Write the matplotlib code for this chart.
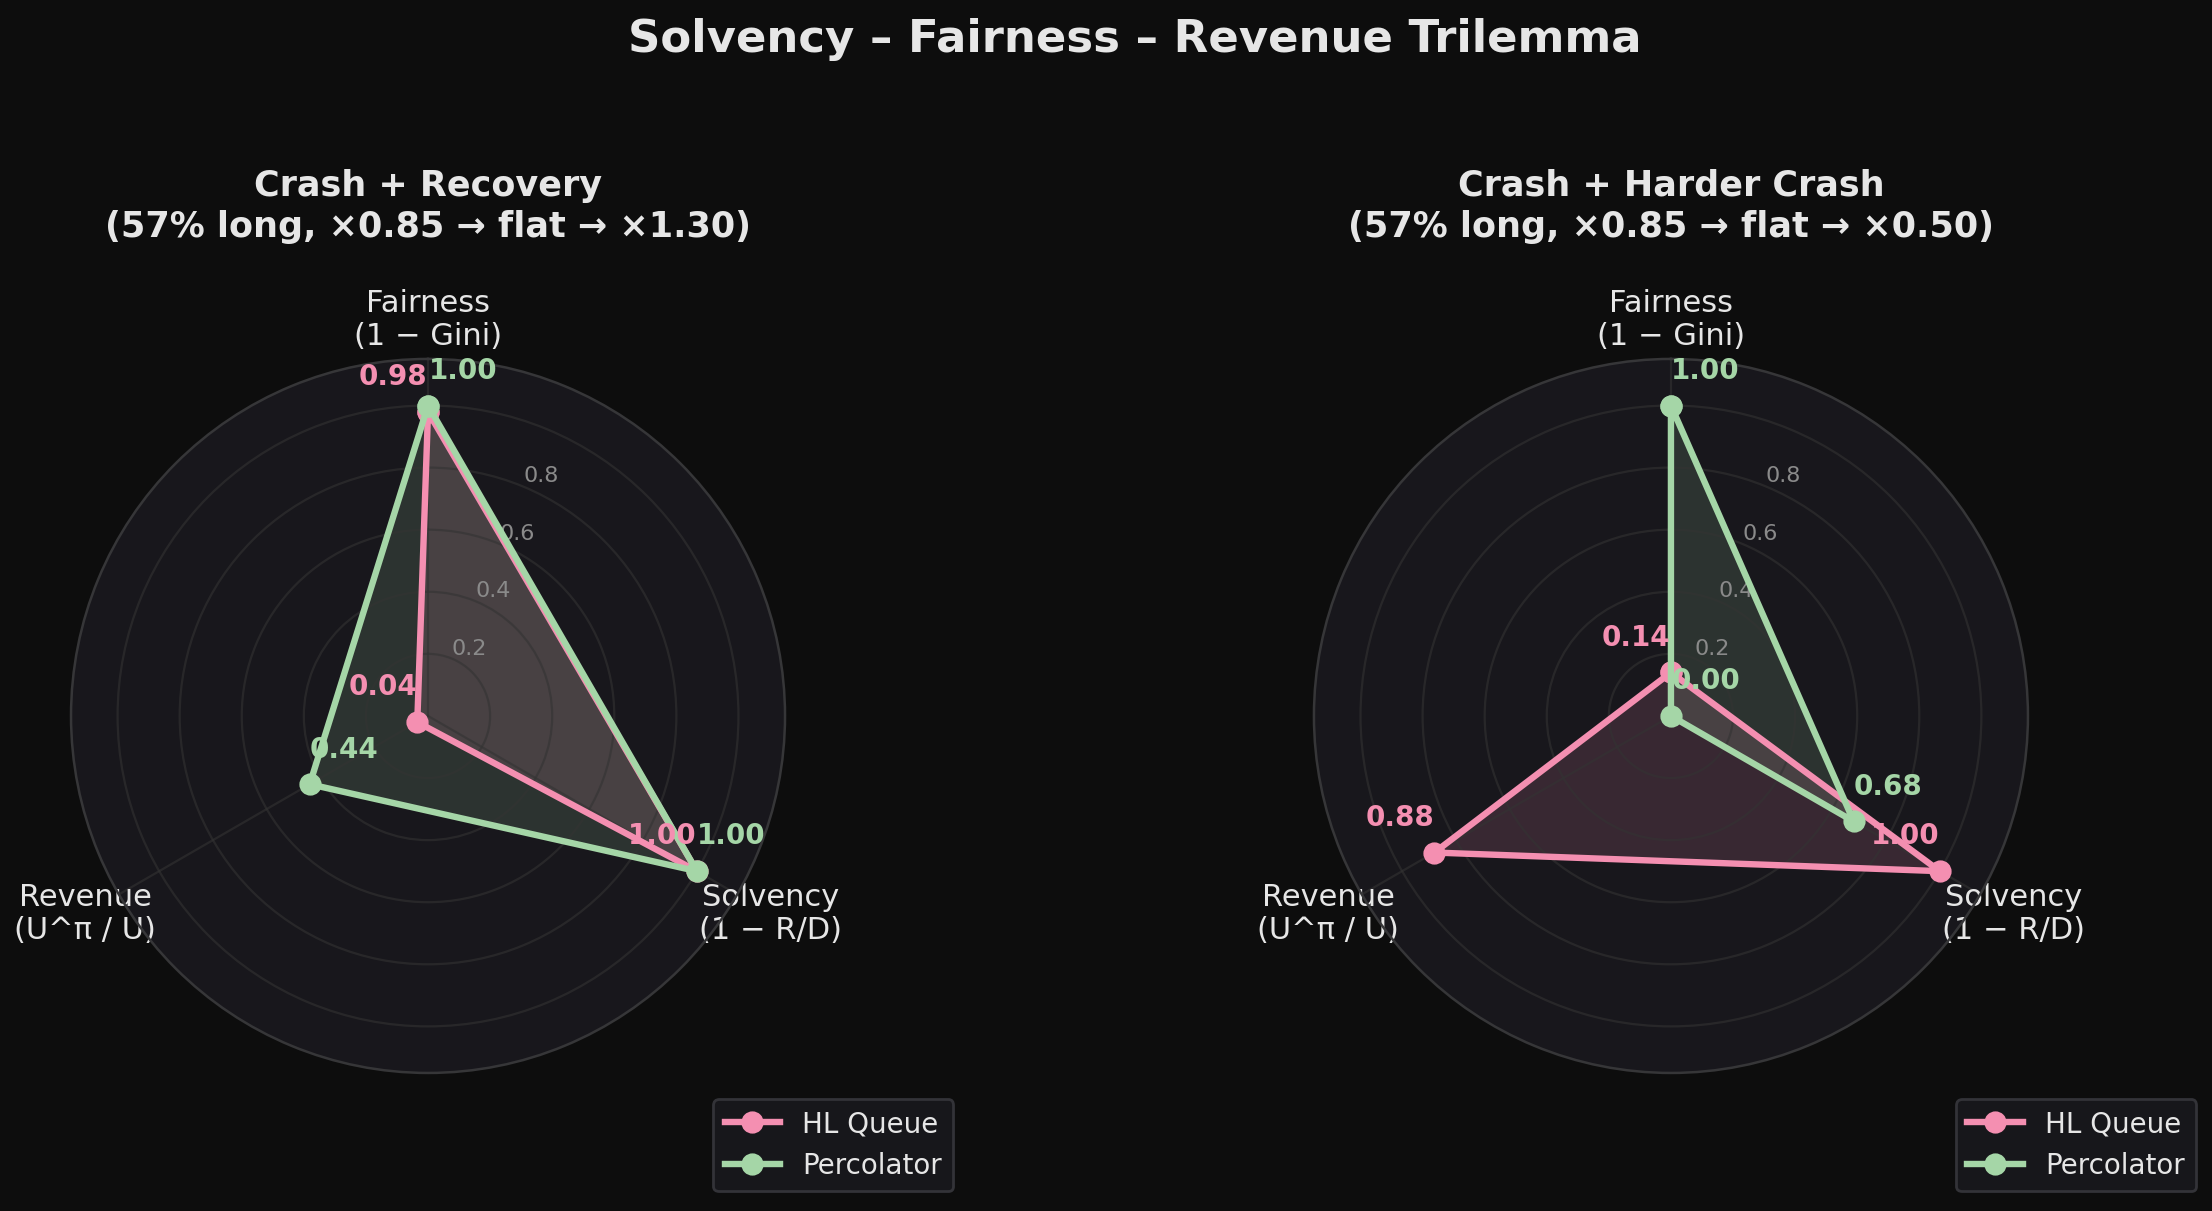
import numpy as np
import matplotlib
matplotlib.use("Agg")
import matplotlib.pyplot as plt

# ── data ──
AXIS_LABELS = ["Fairness\n(1 \u2212 Gini)", "Solvency\n(1 \u2212 R/D)", "Revenue\n(U^\u03c0 / U)"]
SCENARIOS = [
    "Crash + Recovery\n(57% long, \u00d70.85 \u2192 flat \u2192 \u00d71.30)",
    "Crash + Harder Crash\n(57% long, \u00d70.85 \u2192 flat \u2192 \u00d70.50)",
]
SERIES = ["HL Queue", "Percolator"]
# values per scenario: [fairness, solvency, revenue]
HL_VALUES   = [[0.98, 1.00, 0.04], [0.14, 1.00, 0.88]]
PERC_VALUES = [[1.00, 1.00, 0.44], [1.00, 0.68, 0.00]]
R_TICKS = [0.2, 0.4, 0.6, 0.8, 1.0]
R_TICK_LABELS = ["0.2", "0.4", "0.6", "0.8", ""]

# ── dark theme ──
BG      = "#0d0d0d"
AX_BG   = "#18171c"
TXT     = "#e6e6e6"
GRID_C  = "#333333"
SPINE_C = "#363638"
RLAB_C  = "#8a8a8a"
COLORS  = ["#F48FB1", "#A5D6A7"]

DPI = 200
fig = plt.figure(figsize=(2212 / DPI, 1211 / DPI), dpi=DPI)
fig.patch.set_facecolor(BG)

angles = np.linspace(0, 2 * np.pi, len(AXIS_LABELS), endpoint=False)
closed = np.concatenate([angles, angles[:1]])

positions = [
    [0.0321, 0.114, 0.3228, 0.5896],
    [0.5940, 0.114, 0.3228, 0.5896],
]

for k, title in enumerate(SCENARIOS):
    ax = fig.add_axes(positions[k], projection="polar")
    ax.set_facecolor(AX_BG)
    ax.set_theta_offset(np.pi / 2)
    ax.set_theta_direction(-1)
    ax.set_ylim(0, 1.15)

    data = [HL_VALUES[k], PERC_VALUES[k]]
    for j, (name, vals) in enumerate(zip(SERIES, data)):
        v = np.array(vals + vals[:1])
        ax.plot(closed, v, color=COLORS[j], linewidth=2.3, marker="o",
                markersize=7, label=name, zorder=3 + j)
        ax.fill(closed, v, color=COLORS[j], alpha=0.15)
        dx = -12.5 if j == 0 else 12.5
        for a, val in zip(angles, vals):
            ax.annotate(f"{val:.2f}", (a, val), xytext=(dx, 12.5),
                        textcoords="offset points", ha="center", va="center",
                        color=COLORS[j], fontsize=10, fontweight="bold",
                        zorder=6)

    ax.set_xticks(angles)
    ax.set_xticklabels(AXIS_LABELS, color=TXT, fontsize=11)
    ax.set_yticks(R_TICKS)
    ax.set_yticklabels(R_TICK_LABELS, color=RLAB_C, fontsize=8)
    ax.grid(True, color=GRID_C, linewidth=0.8, alpha=0.6)
    ax.spines["polar"].set_color(SPINE_C)
    ax.spines["polar"].set_linewidth(0.9)
    ax.set_title(title, color=TXT, fontsize=12.6, fontweight="bold",
                 pad=44, linespacing=1.25)

    leg = ax.legend(loc="lower right", bbox_to_anchor=(1.255, -0.185),
                    fontsize=10, frameon=True, facecolor="#17171b",
                    edgecolor="#333338", framealpha=1.0)
    for t in leg.get_texts():
        t.set_color(TXT)

fig.suptitle("Solvency \u2013 Fairness \u2013 Revenue Trilemma", color=TXT,
             fontsize=16.2, fontweight="bold", x=0.5128, y=0.985)

fig.savefig("out.png", dpi=DPI, facecolor=BG)
